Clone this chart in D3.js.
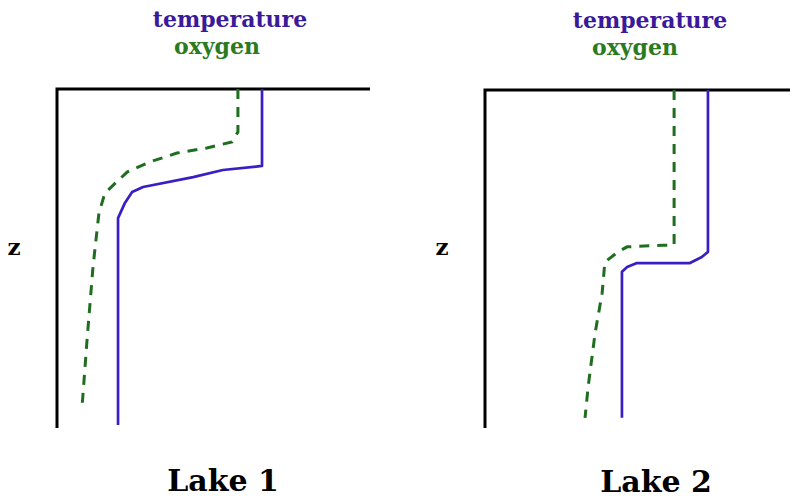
<!DOCTYPE html>
<html>
<head>
<meta charset="utf-8">
<script src="https://cdn.jsdelivr.net/npm/d3@7"></script>
<style>
  html, body { margin: 0; padding: 0; background: #ffffff; }
  svg { display: block; }
  text { font-family: "DejaVu Serif", serif; font-weight: bold; }
</style>
</head>
<body>
<svg id="chart" width="792" height="500"></svg>
<script>
// ---- Data (x = relative value 0..10, z = relative depth 0..10) ----
const lakes = ["Lake 1", "Lake 2"];
const seriesNames = ["temperature", "oxygen"];

const lake1TempX = [6.55, 6.55, 5.30, 4.35, 2.75, 2.40, 2.17, 1.95, 1.95];
const lake1TempZ = [0.00, 2.27, 2.39, 2.60, 2.89, 3.04, 3.36, 3.81, 9.91];
const lake1OxyX  = [5.78, 5.78, 5.59, 4.79, 3.83, 2.97, 2.24, 1.53, 1.34, 1.15, 0.96, 0.80];
const lake1OxyZ  = [0.00, 1.27, 1.56, 1.74, 1.89, 2.15, 2.45, 3.07, 3.66, 5.25, 7.40, 9.38];

const lake2TempX = [7.31, 7.31, 7.11, 6.72, 4.98, 4.66, 4.49, 4.49];
const lake2TempZ = [0.00, 4.79, 4.94, 5.12, 5.12, 5.24, 5.38, 9.70];
const lake2OxyX  = [6.20, 6.20, 5.84, 4.66, 4.36, 3.93, 3.84, 3.61, 3.38, 3.28];
const lake2OxyZ  = [0.00, 4.59, 4.59, 4.64, 4.79, 5.09, 6.01, 7.19, 8.79, 9.70];

const axisLabel = "z";

// ---- Layout ----
const panels = [
  { name: lakes[0], left: 57, right: 370, top: 89, bottom: 428,
    temp: d3.zip(lake1TempX, lake1TempZ), oxy: d3.zip(lake1OxyX, lake1OxyZ),
    tempCx: 230, tempBase: 27, oxyCx: 217, oxyBase: 54,
    zX: 14, zBase: 255, titleCx: 223, titleBase: 491 },
  { name: lakes[1], left: 485, right: 790, top: 90, bottom: 428,
    temp: d3.zip(lake2TempX, lake2TempZ), oxy: d3.zip(lake2OxyX, lake2OxyZ),
    tempCx: 650, tempBase: 28, oxyCx: 635, oxyBase: 55,
    zX: 442, zBase: 255, titleCx: 656, titleBase: 492 }
];

const tempColor = "#3a1ec4";
const tempTextColor = "#3b1a9a";
const oxyColor = "#1f6e1f";
const oxyTextColor = "#2a7a22";

const svg = d3.select("#chart");

panels.forEach(p => {
  const x = d3.scaleLinear().domain([0, 10]).range([p.left, p.right]);
  const y = d3.scaleLinear().domain([0, 10]).range([p.top, p.bottom]);
  const g = svg.append("g");

  // axes: top edge and left edge (depth axis pointing down)
  g.append("path")
    .attr("d", d3.line()([[x(0), y(10)], [x(0), y(0)], [x(10), y(0)]]))
    .attr("fill", "none").attr("stroke", "#000").attr("stroke-width", 3)
    .attr("stroke-linejoin", "miter");

  const line = d3.line().x(d => x(d[0])).y(d => y(d[1]));

  g.append("path").datum(p.oxy)
    .attr("d", line)
    .attr("fill", "none").attr("stroke", oxyColor).attr("stroke-width", 3)
    .attr("stroke-dasharray", "10,8");

  g.append("path").datum(p.temp)
    .attr("d", line)
    .attr("fill", "none").attr("stroke", tempColor).attr("stroke-width", 2.7)
    .attr("stroke-linejoin", "round");

  // legend text
  g.append("text").text(seriesNames[0])
    .attr("x", p.tempCx).attr("y", p.tempBase)
    .attr("text-anchor", "middle").attr("font-size", 22)
    .attr("fill", tempTextColor);
  g.append("text").text(seriesNames[1])
    .attr("x", p.oxyCx).attr("y", p.oxyBase)
    .attr("text-anchor", "middle").attr("font-size", 22)
    .attr("fill", oxyTextColor);

  // z label
  g.append("text").text(axisLabel)
    .attr("x", p.zX).attr("y", p.zBase)
    .attr("text-anchor", "middle").attr("font-size", 23)
    .attr("fill", "#000");

  // title
  g.append("text").text(p.name)
    .attr("x", p.titleCx).attr("y", p.titleBase)
    .attr("text-anchor", "middle").attr("font-size", 30)
    .attr("fill", "#000");
});
</script>
</body>
</html>
